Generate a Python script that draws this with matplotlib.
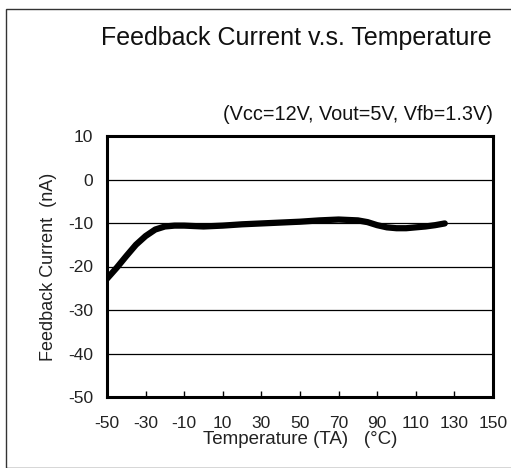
import numpy as np
import matplotlib.pyplot as plt
from matplotlib.patches import Rectangle

plt.rcParams['font.family'] = ['Liberation Sans', 'DejaVu Sans']
plt.rcParams['axes.unicode_minus'] = False

# temperature (C) and feedback current (nA)
temp = [-50, -45, -40, -35, -30, -25, -20, -15, -10, -5, 0, 10, 20, 30, 40, 50, 60, 70, 80, 85, 90, 95, 100, 105, 110, 115, 120, 125]
ifb = [-22.8, -20.3, -17.6, -15.0, -13.0, -11.5, -10.8, -10.6, -10.6, -10.7, -10.8, -10.6, -10.3, -10.1, -9.9, -9.7, -9.4, -9.2, -9.4, -9.8, -10.5, -11.0, -11.2, -11.2, -11.0, -10.8, -10.5, -10.1]

xticks = list(range(-50, 151, 20))
yticks = list(range(-50, 11, 10))

fig = plt.figure(figsize=(5.11, 4.68), dpi=100)
fig.patches.append(Rectangle((6/511, 0), 1.2, 1 - 9/468, transform=fig.transFigure,
                             fill=False, edgecolor='#333333', lw=1.0))

ax = fig.add_axes([107/511, 1 - 397/468, (493-107)/511, (397-136)/468])
ax.plot(temp, ifb, color='black', lw=4.5, solid_capstyle='round', zorder=3)

ax.set_xlim(-50, 150)
ax.set_ylim(-50, 10)
ax.set_xticks(xticks)
ax.set_yticks(yticks)
for y in yticks[1:-1]:
    ax.axhline(y, color='black', lw=0.9, zorder=1)

for s in ax.spines.values():
    s.set_linewidth(2.2)
ax.tick_params(axis='x', direction='in', length=4, width=1, labelsize=12.5, pad=14)
ax.tick_params(axis='y', length=0, labelsize=12.5, pad=10)
for lab in ax.get_xticklabels() + ax.get_yticklabels():
    lab.set_color('#222222')

ax.set_xlabel('Temperature (TA)   (°C)', fontsize=13.5, labelpad=0, color='#222222')
ax.set_ylabel('Feedback Current  (nA)', fontsize=13, labelpad=8, color='#222222')

fig.text(296/511, 1 - 38/468, 'Feedback Current v.s. Temperature', fontsize=18,
         ha='center', va='center', color='#111111')
fig.text(493/511, 1 - 115/468, '(Vcc=12V, Vout=5V, Vfb=1.3V)', fontsize=14.3,
         ha='right', va='center', color='#111111')

fig.savefig('out.png', dpi=100)
